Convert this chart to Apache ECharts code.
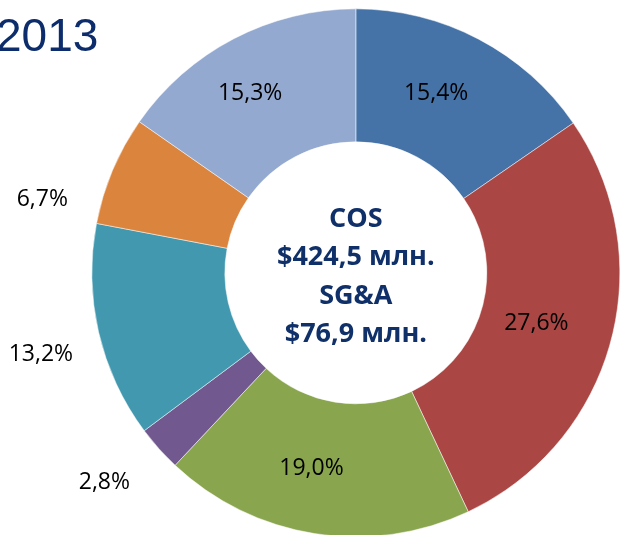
<!DOCTYPE html>
<html>
<head>
<meta charset="utf-8">
<script src="https://cdn.jsdelivr.net/npm/echarts@6/dist/echarts.min.js"></script>
<style>
  html, body { margin: 0; padding: 0; background: #fff; }
  #grafik { width: 621px; height: 535px; }
</style>
</head>
<body>
<div id="grafik"></div>
<script>
// доли затрат, %, по часовой стрелке от 12 часов
var sliceNames = ['Статья 1', 'Статья 2', 'Статья 3', 'Статья 4', 'Статья 5', 'Статья 6', 'Статья 7'];
var shares = [15.4, 27.6, 19.0, 2.8, 13.2, 6.7, 15.3];
var yearTitle = '2013';
var centerLines = ['COS', '$424,5 млн.', 'SG&A', '$76,9 млн.'];

var palette = ['#4572A7', '#AA4643', '#89A54E', '#71588F', '#4198AF', '#DB843D', '#93A9CF'];

// small slices get their label outside the ring
var outsideLen = { 3: 32, 4: 21, 5: 43 };
var outsideShift = { 3: 12, 4: 18, 5: 46 };

var grafik = echarts.init(document.getElementById('grafik'));

var pieData = shares.map(function (v, i) {
  var item = { name: sliceNames[i], value: v, itemStyle: { color: palette[i] } };
  if (outsideLen[i] !== undefined) {
    item.label = { position: 'outside' };
    item.labelLine = { show: false, length: outsideLen[i], length2: 0 };
  }
  return item;
});

var option = {
  animation: false,
  title: [
    {
      text: yearTitle,
      left: -4,
      top: 15,
      padding: 0,
      textStyle: { fontFamily: 'Liberation Sans', fontSize: 46, fontWeight: 'normal', color: '#0c2c6c' }
    },
    {
      text: centerLines.join('\n'),
      left: '57.3%',
      top: '51.7%',
      textAlign: 'center',
      textVerticalAlign: 'middle',
      padding: 0,
      textStyle: { fontFamily: 'Open Sans', fontSize: 27, fontWeight: 'bold', color: '#10306a', lineHeight: 38.5 }
    }
  ],
  series: [
    {
      type: 'pie',
      center: ['57.3%', '51%'],
      radius: [131, 264],
      startAngle: 90,
      clockwise: true,
      avoidLabelOverlap: false,
      itemStyle: { borderColor: '#fff', borderWidth: 0.5 },
      label: {
        show: true,
        position: 'inside',
        fontFamily: 'Open Sans',
        fontSize: 23,
        color: '#000',
        bleedMargin: 0,
        distanceToLabelLine: 5,
        formatter: function (p) {
          return p.value.toFixed(1).replace('.', ',') + '%';
        }
      },
      labelLine: { show: false },
      labelLayout: function (p) {
        if (outsideShift[p.dataIndex] !== undefined) {
          return { dy: outsideShift[p.dataIndex] };
        }
        return { dx: -13, dy: -2 };
      },
      emphasis: { disabled: true },
      data: pieData
    }
  ]
};
grafik.setOption(option);
</script>
</body>
</html>
